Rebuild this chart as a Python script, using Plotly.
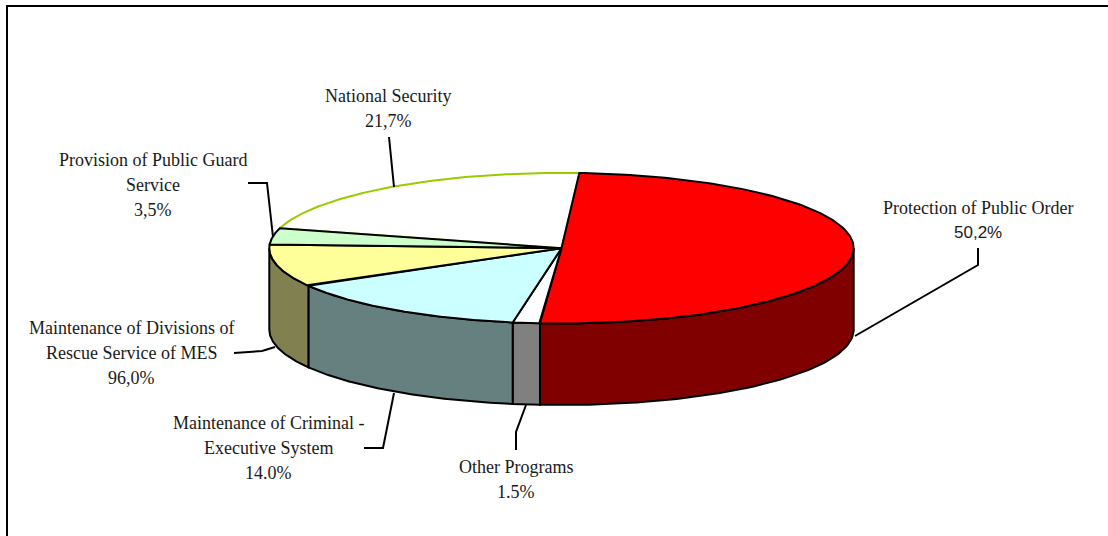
import numpy as np
import plotly.graph_objects as go

# ---- data (clockwise from the top boundary) ----
categories = ["Protection of Public Order", "Other Programs",
              "Maintenance of Criminal - Executive System",
              "Maintenance of Divisions of Rescue Service of MES",
              "Provision of Public Guard Service", "National Security"]
values = [50.2, 1.5, 14.0, 9.1, 3.5, 21.7]
label_lines = [["Protection of Public Order"], ["Other Programs"],
               ["Maintenance of Criminal -", "Executive System"],
               ["Maintenance of Divisions of", "Rescue Service of MES"],
               ["Provision of Public Guard", "Service"], ["National Security"]]
pct_labels = ["50,2%", "1.5%", "14.0%", "96,0%", "3,5%", "21,7%"]

# ---- styles / geometry ----
top_colors = ["#FF0000", "#FFFFFF", "#CCFFFF", "#FFFF99", "#CCFFCC", "#FFFFFF"]
side_colors = ["#800000", "#808080", "#668080", "#808050", "#668066", "#808080"]
cx, cy, a, b, depth = 561.5, 248.2, 292.2, 75.3, 81.5
start_deg = 86.5
SERIF = "Liberation Serif, Times New Roman, Times, serif"
SANS = "Liberation Sans, Arial, sans-serif"
LW = 2.0

label_pos = [(978, 208), (516, 467), (268, 423), (131, 328), (153, 160), (388, 96)]
line_gap = 24.8
leaders = [[(978, 248), (978, 265), (855, 336)],
           [(516, 450), (516, 432), (526, 405)],
           [(364, 448), (383, 448), (394, 393)],
           [(234, 353), (262, 351), (275, 347)],
           [(248, 183), (267, 183), (273, 237)],
           [(389, 137), (394, 187)]]

total = sum(values)
bounds = [start_deg]
for v in values:
    bounds.append(bounds[-1] - v / total * 360.0)


def ex(t):
    return cx + a * np.cos(np.radians(t))


def ey(t):
    return cy - b * np.sin(np.radians(t))


fig = go.Figure()

# side walls (front half only: angles in (-180, 0))
for i in range(len(values)):
    hi, lo = bounds[i], bounds[i + 1]
    h, l = min(hi, 0.0), max(lo, -180.0)
    if h <= l:
        continue
    t = np.linspace(h, l, 80)
    xs = list(ex(t)) + list(ex(t[::-1]))
    ys = list(ey(t)) + list(ey(t[::-1]) + depth)
    xs.append(xs[0]); ys.append(ys[0])
    fig.add_trace(go.Scatter(x=xs, y=ys, mode="lines", fill="toself",
                             fillcolor=side_colors[i],
                             line=dict(color="black", width=LW),
                             hoverinfo="skip", showlegend=False))

# top faces: National Security first (green outline), then the rest
order = [5, 0, 1, 2, 3, 4]
for i in order:
    hi, lo = bounds[i], bounds[i + 1]
    t = np.linspace(hi, lo, 200)
    xs = [cx] + list(ex(t)) + [cx]
    ys = [cy] + list(ey(t)) + [cy]
    lc = "#99CC00" if i == 5 else "black"
    fig.add_trace(go.Scatter(x=xs, y=ys, mode="lines", fill="toself",
                             fillcolor=top_colors[i],
                             line=dict(color=lc, width=LW),
                             name=categories[i], hoverinfo="name",
                             showlegend=False))

# leader lines
for pts in leaders:
    path = "M " + " L ".join(f"{x},{y}" for x, y in pts)
    fig.add_shape(type="path", path=path, xref="x", yref="y",
                  line=dict(color="black", width=LW))

# labels
for i in range(len(values)):
    x0, y0 = label_pos[i]
    lines = label_lines[i]
    for k, txt in enumerate(lines):
        fig.add_annotation(x=x0, y=y0 + k * line_gap, text=txt, showarrow=False,
                           xref="x", yref="y", xanchor="center", yanchor="middle",
                           font=dict(family=SERIF, size=18, color="#1a1a1a"))
    is_sans = (i == 0)
    fig.add_annotation(x=x0, y=y0 + len(lines) * line_gap, text=pct_labels[i],
                       showarrow=False, xref="x", yref="y", xanchor="center",
                       yanchor="middle",
                       font=dict(family=SANS if is_sans else SERIF,
                                 size=17 if is_sans else 18, color="#1a1a1a"))

# outer border
fig.add_shape(type="rect", x0=7, y0=6, x1=1114, y1=545, xref="x", yref="y",
              line=dict(color="black", width=2))

fig.update_layout(width=1108, height=536, autosize=False,
                  margin=dict(l=0, r=0, t=0, b=0),
                  paper_bgcolor="white", plot_bgcolor="white",
                  xaxis=dict(range=[0, 1108], visible=False, fixedrange=True),
                  yaxis=dict(range=[536, 0], visible=False, fixedrange=True))

# remove the default 8px page margin so axis units equal window pixels
fig.write_html("out.html", config={"displayModeBar": False},
               post_script="document.body.style.margin='0';")
